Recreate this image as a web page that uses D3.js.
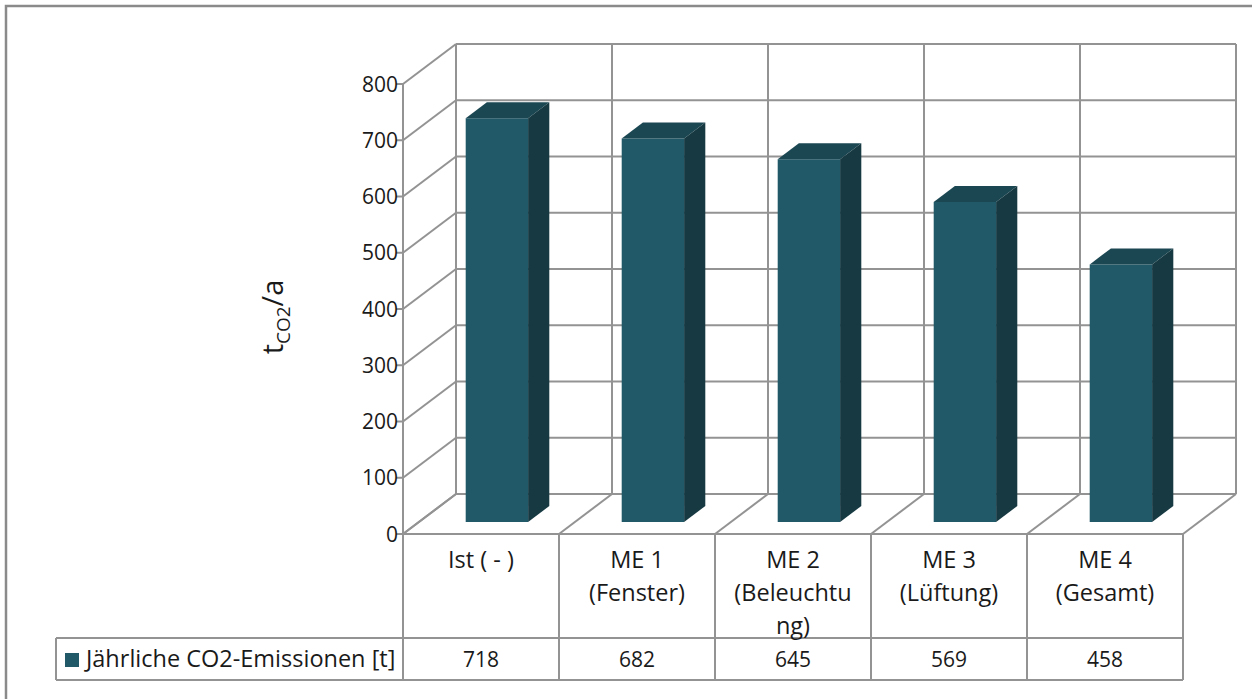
<!DOCTYPE html>
<html>
<head>
<meta charset="utf-8">
<script src="https://cdn.jsdelivr.net/npm/d3@7"></script>
<style>
  html, body { margin: 0; padding: 0; background: #fff; }
  svg { display: block; }
  text { font-family: "Open Sans", Lato, sans-serif; fill: #1a1a1a; }
</style>
</head>
<body>
<svg id="chart" width="1252" height="699"></svg>
<script>
// Annual CO2 emissions per measure
const categories = ["Ist ( - )", "ME 1 (Fenster)", "ME 2 (Beleuchtung)", "ME 3 (Lüftung)", "ME 4 (Gesamt)"];
const categoryLines = [["Ist ( - )"], ["ME 1", "(Fenster)"], ["ME 2", "(Beleuchtu", "ng)"], ["ME 3", "(Lüftung)"], ["ME 4", "(Gesamt)"]];
const emissions = [718, 682, 645, 569, 458];
const seriesName = "Jährliche CO2-Emissionen [t]";
const yTicks = [0, 100, 200, 300, 400, 500, 600, 700, 800];

const svg = d3.select("#chart");
const grid = "#939393";
const fsNum = 21;    // numeric labels
const fsText = 23.5; // word labels

// plot geometry: front plane and oblique depth offset
const front = { left: 403, right: 1183, top: 84, bottom: 534 };
const depth = { dx: 53, dy: -40 };
const table = { headerBottom: 638, rowBottom: 680, legendLeft: 56 };

const y = d3.scaleLinear().domain([0, 800]).range([front.bottom, front.top]);
const x = d3.scaleBand().domain(categories).range([front.left, front.right]);

// project (x on front plane, value, depth fraction) to screen
const P = (px, v, z) => [px + z * depth.dx, y(v) + z * depth.dy];
const line = d3.line();

// outer chart border (top and left visible)
svg.append("path").attr("d", "M6,699 L6,6 L1252,6")
  .attr("fill", "none").attr("stroke", "#8a8a8a").attr("stroke-width", 2.5);

const g = svg.append("g");

// back wall gridlines
yTicks.forEach(v => {
  g.append("path").attr("d", line([P(front.left, v, 1), P(front.right, v, 1)]))
    .attr("stroke", grid).attr("stroke-width", 2).attr("fill", "none");
  // side wall diagonals
  g.append("path").attr("d", line([P(front.left, v, 0), P(front.left, v, 1)]))
    .attr("stroke", grid).attr("stroke-width", 2).attr("fill", "none");
});
// back wall verticals at category boundaries
const bounds = categories.map(c => x(c)).concat([front.right]);
bounds.forEach(bx => {
  g.append("path").attr("d", line([P(bx, 0, 1), P(bx, 800, 1)]))
    .attr("stroke", grid).attr("stroke-width", 2).attr("fill", "none");
  // floor diagonals
  g.append("path").attr("d", line([P(bx, 0, 0), P(bx, 0, 1)]))
    .attr("stroke", grid).attr("stroke-width", 2).attr("fill", "none");
});
// floor front edge
g.append("path").attr("d", line([P(front.left, 0, 0), P(front.right, 0, 0)]))
  .attr("stroke", grid).attr("stroke-width", 2).attr("fill", "none");

// 3D bars
const barW = x.bandwidth() * 0.4;
const z0 = 0.3, z1 = 0.7;
const colors = { front: "#215968", top: "#1b4752", side: "#163942" };
categories.forEach((c, i) => {
  const v = emissions[i];
  const xl = x(c) + (x.bandwidth() - barW) / 2, xr = xl + barW;
  const bar = g.append("g");
  bar.append("path").attr("d", line([P(xl, 0, z0), P(xr, 0, z0), P(xr, v, z0), P(xl, v, z0)]) + "Z")
    .attr("fill", colors.front);
  bar.append("path").attr("d", line([P(xl, v, z0), P(xr, v, z0), P(xr, v, z1), P(xl, v, z1)]) + "Z")
    .attr("fill", colors.top);
  bar.append("path").attr("d", line([P(xr, 0, z0), P(xr, 0, z1), P(xr, v, z1), P(xr, v, z0)]) + "Z")
    .attr("fill", colors.side);
});

// value axis on the front plane
g.append("path").attr("d", line([[front.left, front.top], [front.left, table.rowBottom]]))
  .attr("stroke", grid).attr("stroke-width", 2).attr("fill", "none");
yTicks.forEach(v => {
  g.append("path").attr("d", line([[front.left - 7, y(v)], [front.left, y(v)]]))
    .attr("stroke", grid).attr("stroke-width", 2);
  g.append("text").attr("x", front.left - 5).attr("y", y(v)).attr("dy", "0.36em")
    .attr("text-anchor", "end").attr("font-size", fsNum).text(v);
});

// axis title t_CO2/a
const title = svg.append("text")
  .attr("transform", "translate(283,317) rotate(-90)")
  .attr("text-anchor", "middle").attr("font-size", 29);
title.append("tspan").text("t");
title.append("tspan").attr("font-size", 19).attr("dy", 7).text("CO2");
title.append("tspan").attr("dy", -7).text("/a");

// data table under the plot
const tg = svg.append("g");
const tl = (pts) => tg.append("path").attr("d", line(pts))
  .attr("stroke", grid).attr("stroke-width", 2).attr("fill", "none");
bounds.forEach(bx => tl([[bx, front.bottom], [bx, table.rowBottom]]));
tl([[table.legendLeft, table.headerBottom], [front.right, table.headerBottom]]);
tl([[table.legendLeft, table.rowBottom], [front.right, table.rowBottom]]);
tl([[table.legendLeft, table.headerBottom], [table.legendLeft, table.rowBottom]]);

categories.forEach((c, i) => {
  const cx = x(c) + x.bandwidth() / 2;
  categoryLines[i].forEach((ln, j) => {
    tg.append("text").attr("x", cx).attr("y", 568 + j * 33)
      .attr("text-anchor", "middle").attr("font-size", fsText).text(ln);
  });
  tg.append("text").attr("x", cx).attr("y", (table.headerBottom + table.rowBottom) / 2)
    .attr("dy", "0.36em").attr("text-anchor", "middle").attr("font-size", fsNum).text(emissions[i]);
});

// legend key in the table row
tg.append("rect").attr("x", 65).attr("y", 653).attr("width", 14).attr("height", 14)
  .attr("fill", colors.front);
tg.append("text").attr("x", 86).attr("y", (table.headerBottom + table.rowBottom) / 2)
  .attr("dy", "0.36em").attr("font-size", fsText).text(seriesName);
</script>
</body>
</html>
